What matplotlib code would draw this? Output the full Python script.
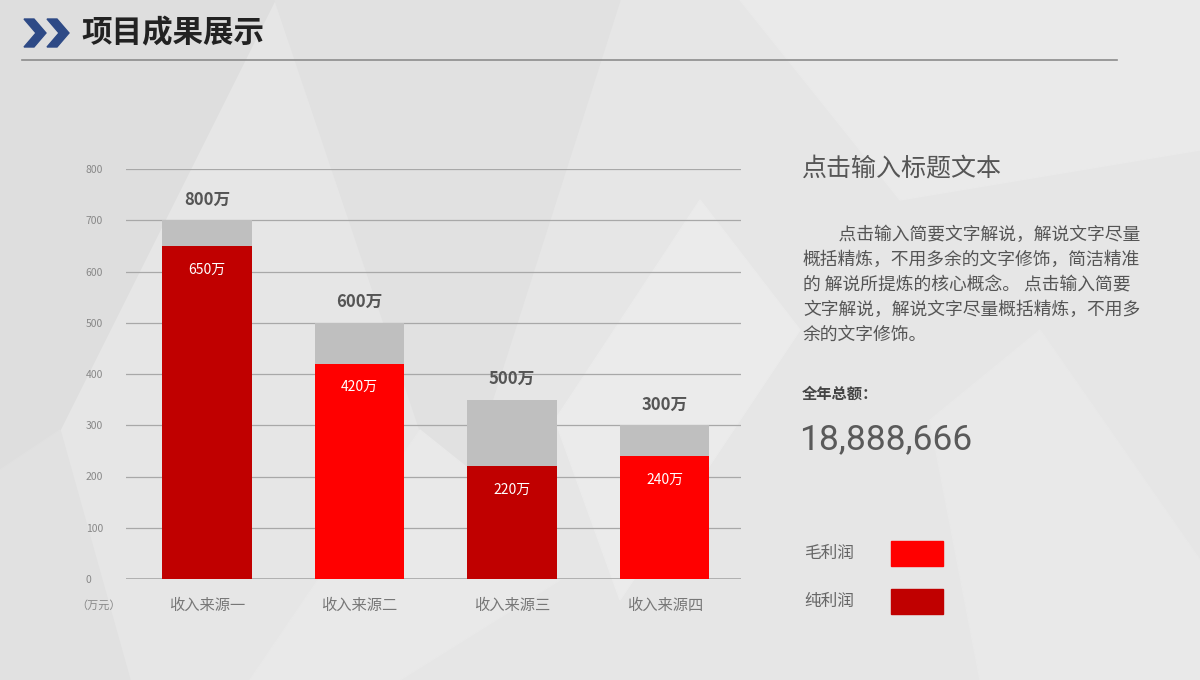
import matplotlib.pyplot as plt
from matplotlib.patches import Polygon, Rectangle

plt.rcParams['font.family'] = ['Noto Sans CJK SC', 'DejaVu Sans']

# data
categories = ['收入来源一', '收入来源二', '收入来源三', '收入来源四']
totals = [700, 500, 350, 300]          # gray bars
profits = [650, 420, 220, 240]         # red bars
top_labels = ['800万', '600万', '500万', '300万']
inner_labels = ['650万', '420万', '220万', '240万']
bar_colors = ['#C00000', '#FF0000', '#C00000', '#FF0000']
yticks = [0, 100, 200, 300, 400, 500, 600, 700, 800]

paragraph = ['\u3000\u3000点击输入简要文字解说，解说文字尽量',
             '概括精炼，不用多余的文字修饰，简洁精准',
             '的 解说所提炼的核心概念。 点击输入简要',
             '文字解说，解说文字尽量概括精炼，不用多',
             '余的文字修饰。']
legend_names = ['毛利润', '纯利润']
legend_colors = ['#FF0000', '#C00000']

W, H = 1200, 680
fig = plt.figure(figsize=(12, 6.8), dpi=100)

# background layer in pixel coords
bg = fig.add_axes([0, 0, 1, 1], zorder=0)
bg.set_xlim(0, W)
bg.set_ylim(H, 0)
bg.axis('off')
bg.add_patch(Rectangle((0, 0), W, H, color='#E6E6E6'))
bg.add_patch(Polygon([(0, 0), (275, 0), (60, 430), (0, 470)], color='#DEDEDE'))
bg.add_patch(Polygon([(275, 0), (620, 0), (470, 470), (420, 430)], color='#E1E1E1'))
bg.add_patch(Polygon([(420, 430), (470, 470), (560, 580), (400, 680), (250, 680)], color='#E9E9E9'))
bg.add_patch(Polygon([(555, 420), (700, 200), (800, 330), (620, 600)], color='#EBEBEB'))
bg.add_patch(Polygon([(740, 0), (1200, 0), (1200, 150), (900, 200)], color='#EAEAEA'))
bg.add_patch(Polygon([(1040, 330), (1200, 560), (1200, 680), (980, 680), (930, 420)], color='#E9E9E9'))
bg.add_patch(Polygon([(0, 470), (60, 430), (130, 680), (0, 680)], color='#E1E1E1'))

# header
for dx in (0, 23):
    bg.add_patch(Polygon([(24 + dx, 19), (34 + dx, 19), (46 + dx, 33),
                          (34 + dx, 47), (24 + dx, 47), (36 + dx, 33)], color='#2E4A86'))
bg.text(81, 33, '项目成果展示', fontsize=22, fontweight='bold', color='#222222',
        va='center', ha='left')
bg.plot([22, 1117], [60, 60], color='#8C8C8C', lw=1.2)

# chart
ax = fig.add_axes([126 / W, 1 - 579 / H, (741 - 126) / W, (579 - 169) / H], zorder=1)
ax.set_facecolor('none')
x = list(range(len(categories)))
ax.bar(x, totals, width=0.585, color='#BFBFBF', zorder=2)
ax.bar(x, profits, width=0.585, color=bar_colors, zorder=3)
for i in x:
    ax.annotate(top_labels[i], (i, totals[i]), xytext=(0, 15), textcoords='offset points',
                ha='center', va='center', fontsize=12, fontweight='bold', color='#555555')
    ax.annotate(inner_labels[i], (i, profits[i]), xytext=(0, -17), textcoords='offset points',
                ha='center', va='center', fontsize=10, color='white', zorder=4)

ax.set_xlim(-0.53, 3.5)
ax.set_ylim(0, 800)
ax.set_yticks(yticks)
ax.set_yticklabels([str(v) for v in yticks])
ax.set_xticks(x)
ax.set_xticklabels(categories)
ax.grid(axis='y', color='#A8A8A8', lw=0.9, zorder=1)
ax.set_axisbelow(True)
for s in ax.spines.values():
    s.set_visible(False)
ax.axhline(0, color='#A8A8A8', lw=1.2, zorder=1)
ax.tick_params(axis='y', length=0, pad=29, labelsize=7.5, labelcolor='#888888')
for lbl in ax.get_yticklabels():
    lbl.set_horizontalalignment('left')
ax.tick_params(axis='x', length=0, pad=13, labelsize=11, labelcolor='#777777')
fig.text(99 / W, 1 - 605 / H, '（万元）', fontsize=8, color='#888888', ha='center', va='center')

# right side text
fig.text(802 / W, 1 - 168 / H, '点击输入标题文本', fontsize=18, color='#555555', va='center')
for k, line in enumerate(paragraph):
    fig.text(803 / W, 1 - (235 + 25 * k) / H, line, fontsize=12.8, color='#555555', va='center')
fig.text(802 / W, 1 - 394 / H, '全年总额：', fontsize=11, fontweight='bold', color='#444444', va='center')
fig.text(799 / W, 1 - 440 / H, '18,888,666', fontsize=25.5, color='#5A5A5A', va='center',
         family=['Roboto', 'DejaVu Sans'])

# legend
for k, (name, col) in enumerate(zip(legend_names, legend_colors)):
    yc = 553 + 48 * k
    fig.text(804 / W, 1 - yc / H, name, fontsize=12, color='#666666', va='center')
    bg.add_patch(Rectangle((891, yc - 12), 52, 25, color=col))

fig.savefig('out.png', dpi=100)
